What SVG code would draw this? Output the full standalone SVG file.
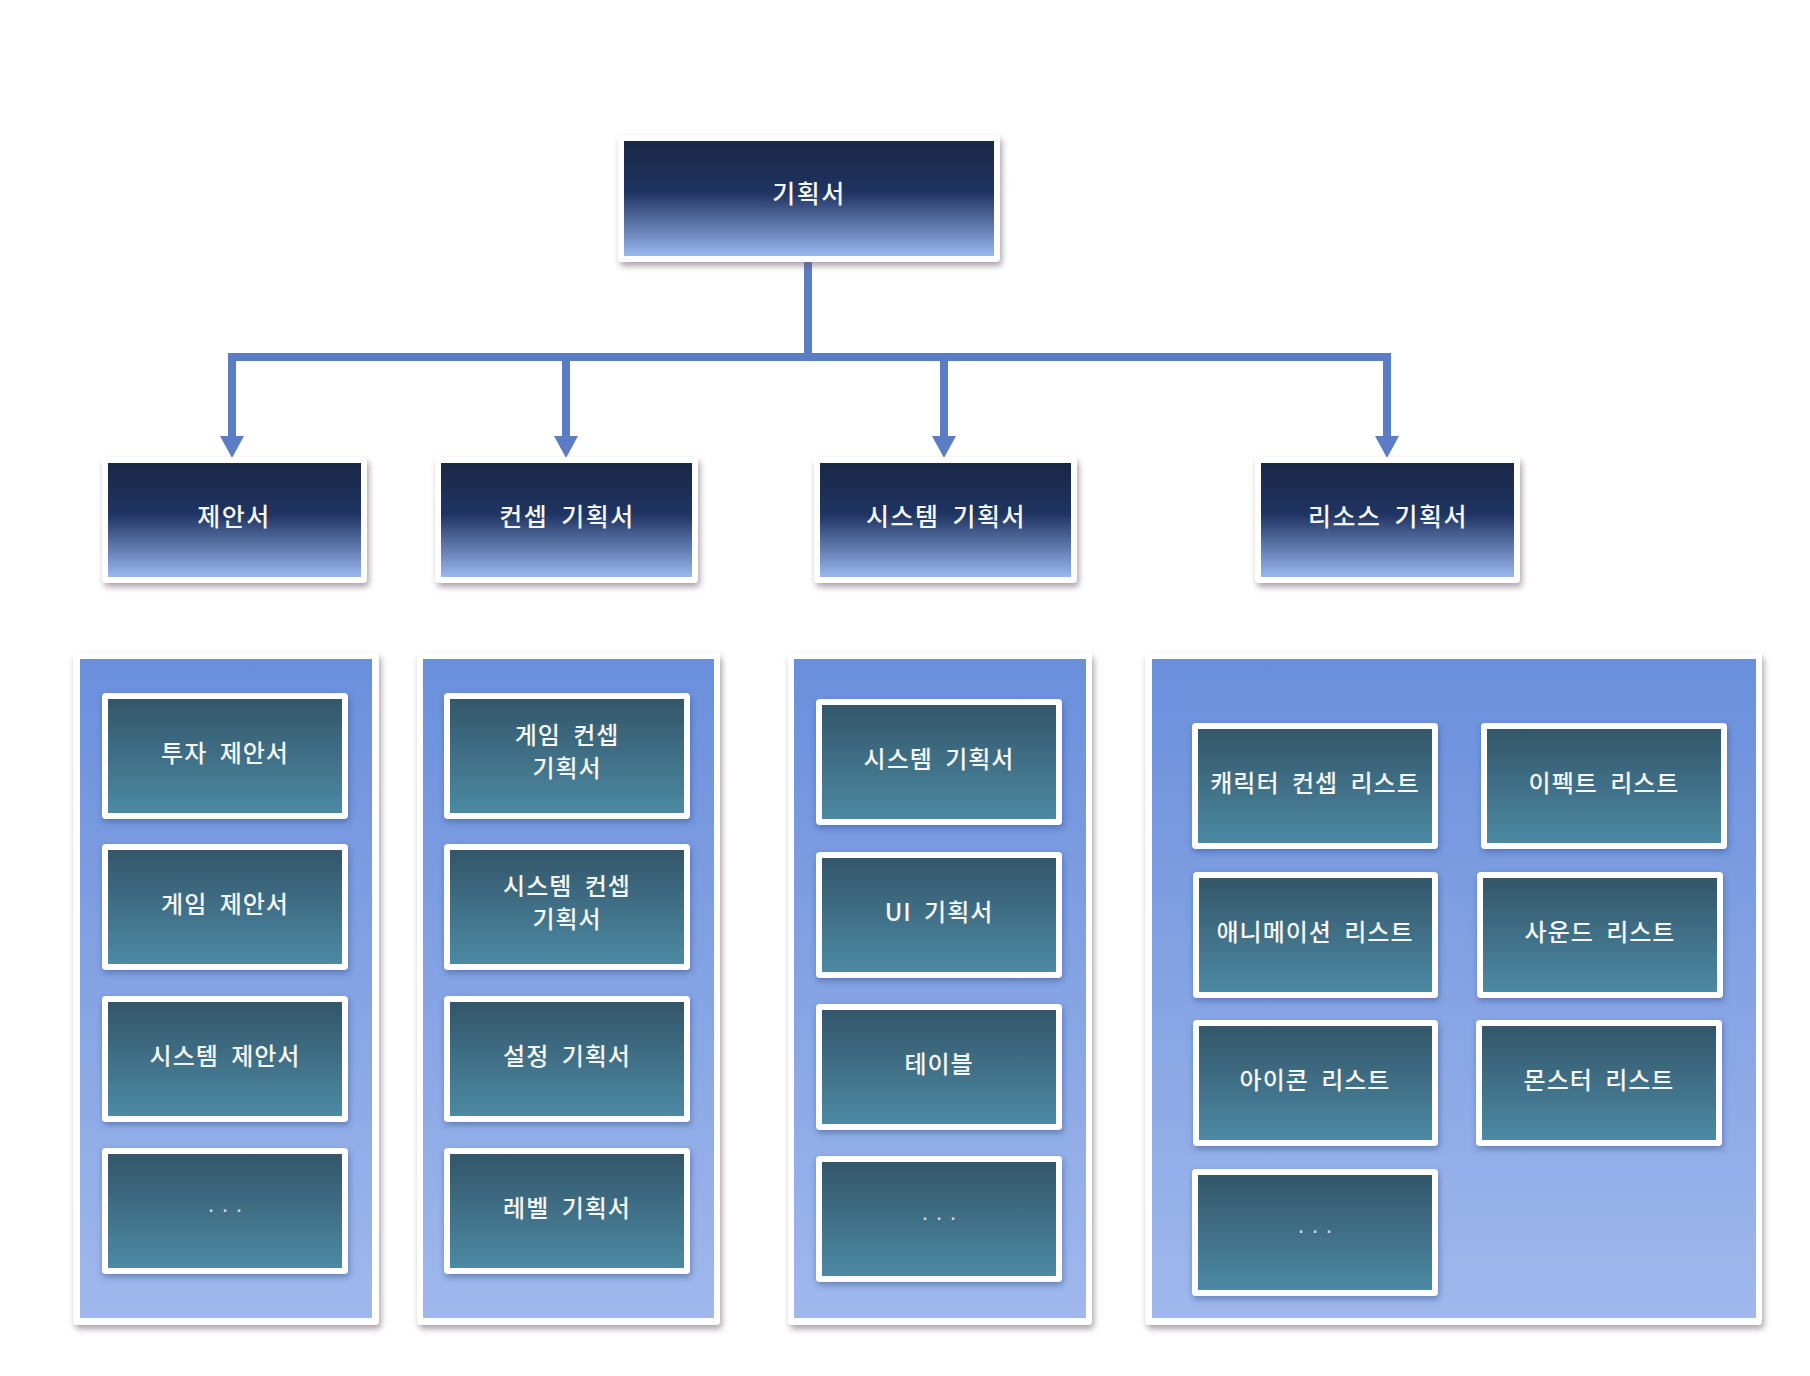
<svg xmlns="http://www.w3.org/2000/svg" width="1810" height="1376" viewBox="0 0 1810 1376">
<style>
.t{font-family:"Noto Sans CJK KR","Noto Sans",sans-serif;fill:#f6f6f2;text-anchor:middle;font-weight:500;}
.th{font-size:25px;letter-spacing:1.5px;word-spacing:6px;}
.ti{font-size:24px;letter-spacing:1px;word-spacing:6px;}
.dots{font-family:"Liberation Sans",sans-serif;font-size:24px;fill:#c8dae6;text-anchor:middle;letter-spacing:6px;}
.frame{fill:#ffffff;filter:url(#sh);}
.iframe{fill:#ffffff;filter:url(#shb);}
.hdr{fill:url(#gH);}
.cont{fill:url(#gC);}
.itm{fill:url(#gI);}
.conn{stroke:#5a7dc6;stroke-width:8;fill:none;}
</style>
<defs>
<linearGradient id="gH" x1="0" y1="0" x2="0" y2="1">
<stop offset="0" stop-color="#1a2746"/>
<stop offset="0.45" stop-color="#1f3462"/>
<stop offset="1" stop-color="#9ab7ef"/>
</linearGradient>
<linearGradient id="gC" x1="0" y1="0" x2="0" y2="1">
<stop offset="0" stop-color="#6a8fdc"/>
<stop offset="1" stop-color="#a0b8ec"/>
</linearGradient>
<linearGradient id="gI" x1="0" y1="0" x2="0" y2="1">
<stop offset="0" stop-color="#33566a"/>
<stop offset="1" stop-color="#4c89a3"/>
</linearGradient>
<filter id="sh" x="-10%" y="-10%" width="120%" height="125%">
<feDropShadow dx="2" dy="4" stdDeviation="3" flood-color="#6a5568" flood-opacity="0.55"/>
</filter>
<filter id="shb" x="-10%" y="-10%" width="120%" height="125%">
<feDropShadow dx="1" dy="3" stdDeviation="3" flood-color="#2c4a90" flood-opacity="0.5"/>
</filter>
<marker id="arr" markerUnits="userSpaceOnUse" markerWidth="26" markerHeight="26" viewBox="0 -13 24 26" refX="0" refY="0" orient="auto">
<path d="M0,-12 L22,0 L0,12 Z" fill="#5a7dc6"/>
</marker>
</defs>

<g id="connectors">
<path class="conn" d="M808 262 V357"/>
<path class="conn" d="M232 357 H1387" stroke-linecap="square"/>
<path class="conn" d="M232 357 V436" marker-end="url(#arr)"/>
<path class="conn" d="M566 357 V436" marker-end="url(#arr)"/>
<path class="conn" d="M944 357 V436" marker-end="url(#arr)"/>
<path class="conn" d="M1387 357 V436" marker-end="url(#arr)"/>
</g>

<g id="node-root">
<rect class="frame" x="618" y="135" width="382" height="127" rx="4"/>
<rect class="hdr" x="624" y="141" width="370" height="115"/>
<text class="t th" x="809" y="203">기획서</text>
</g>

<g id="node-proposal">
<rect class="frame" x="102" y="457" width="265" height="126" rx="4"/>
<rect class="hdr" x="108" y="463" width="253" height="114"/>
<text class="t th" x="234" y="526">제안서</text>
</g>
<g id="node-concept">
<rect class="frame" x="435" y="457" width="263" height="126" rx="4"/>
<rect class="hdr" x="441" y="463" width="251" height="114"/>
<text class="t th" x="567" y="526">컨셉 기획서</text>
</g>
<g id="node-system">
<rect class="frame" x="814" y="457" width="263" height="126" rx="4"/>
<rect class="hdr" x="820" y="463" width="251" height="114"/>
<text class="t th" x="946" y="526">시스템 기획서</text>
</g>
<g id="node-resource">
<rect class="frame" x="1255" y="457" width="265" height="126" rx="4"/>
<rect class="hdr" x="1261" y="463" width="253" height="114"/>
<text class="t th" x="1388" y="526">리소스 기획서</text>
</g>

<!-- column containers -->
<g id="group-proposal">
<rect class="frame" x="73" y="653" width="306" height="672" rx="4"/>
<rect class="cont" x="80" y="659" width="292" height="659"/>
</g>
<g id="group-concept">
<rect class="frame" x="417" y="653" width="303" height="672" rx="4"/>
<rect class="cont" x="423" y="659" width="291" height="659"/>
</g>
<g id="group-system">
<rect class="frame" x="788" y="653" width="304" height="672" rx="4"/>
<rect class="cont" x="794" y="659" width="292" height="659"/>
</g>
<g id="group-resource">
<rect class="frame" x="1145" y="653" width="617" height="672" rx="4"/>
<rect class="cont" x="1152" y="659" width="604" height="659"/>
</g>

<!-- column 1 items -->
<g id="item-invest">
<rect class="iframe" x="102" y="693" width="246" height="126" rx="4"/>
<rect class="itm" x="108" y="699" width="234" height="114"/>
<text class="t ti" x="225" y="762">투자 제안서</text>
</g>
<g id="item-game-proposal">
<rect class="iframe" x="102" y="844" width="246" height="126" rx="4"/>
<rect class="itm" x="108" y="850" width="234" height="114"/>
<text class="t ti" x="225" y="913">게임 제안서</text>
</g>
<g id="item-system-proposal">
<rect class="iframe" x="102" y="996" width="246" height="126" rx="4"/>
<rect class="itm" x="108" y="1002" width="234" height="114"/>
<text class="t ti" x="225" y="1065">시스템 제안서</text>
</g>
<g id="item-proposal-more">
<rect class="iframe" x="102" y="1148" width="246" height="126" rx="4"/>
<rect class="itm" x="108" y="1154" width="234" height="114"/>
<text class="dots" x="228" y="1217">···</text>
</g>

<!-- column 2 items -->
<g id="item-game-concept">
<rect class="iframe" x="444" y="693" width="246" height="126" rx="4"/>
<rect class="itm" x="450" y="699" width="234" height="114"/>
<text class="t ti" x="567" y="744">게임 컨셉</text>
<text class="t ti" x="567" y="777">기획서</text>
</g>
<g id="item-system-concept">
<rect class="iframe" x="444" y="844" width="246" height="126" rx="4"/>
<rect class="itm" x="450" y="850" width="234" height="114"/>
<text class="t ti" x="567" y="895">시스템 컨셉</text>
<text class="t ti" x="567" y="928">기획서</text>
</g>
<g id="item-setting">
<rect class="iframe" x="444" y="996" width="246" height="126" rx="4"/>
<rect class="itm" x="450" y="1002" width="234" height="114"/>
<text class="t ti" x="567" y="1065">설정 기획서</text>
</g>
<g id="item-level">
<rect class="iframe" x="444" y="1148" width="246" height="126" rx="4"/>
<rect class="itm" x="450" y="1154" width="234" height="114"/>
<text class="t ti" x="567" y="1217">레벨 기획서</text>
</g>

<!-- column 3 items -->
<g id="item-system-plan">
<rect class="iframe" x="816" y="699" width="246" height="126" rx="4"/>
<rect class="itm" x="822" y="705" width="234" height="114"/>
<text class="t ti" x="939" y="768">시스템 기획서</text>
</g>
<g id="item-ui">
<rect class="iframe" x="816" y="852" width="246" height="126" rx="4"/>
<rect class="itm" x="822" y="858" width="234" height="114"/>
<text class="t ti" x="939" y="921">UI 기획서</text>
</g>
<g id="item-table">
<rect class="iframe" x="816" y="1004" width="246" height="126" rx="4"/>
<rect class="itm" x="822" y="1010" width="234" height="114"/>
<text class="t ti" x="939" y="1073">테이블</text>
</g>
<g id="item-system-more">
<rect class="iframe" x="816" y="1156" width="246" height="126" rx="4"/>
<rect class="itm" x="822" y="1162" width="234" height="114"/>
<text class="dots" x="942" y="1225">···</text>
</g>

<!-- column 4 items -->
<g id="item-character">
<rect class="iframe" x="1192" y="723" width="246" height="126" rx="4"/>
<rect class="itm" x="1198" y="729" width="234" height="114"/>
<text class="t ti" x="1315" y="792">캐릭터 컨셉 리스트</text>
</g>
<g id="item-effect">
<rect class="iframe" x="1481" y="723" width="246" height="126" rx="4"/>
<rect class="itm" x="1487" y="729" width="234" height="114"/>
<text class="t ti" x="1604" y="792">이펙트 리스트</text>
</g>
<g id="item-animation">
<rect class="iframe" x="1193" y="872" width="245" height="126" rx="4"/>
<rect class="itm" x="1199" y="878" width="233" height="114"/>
<text class="t ti" x="1315" y="941">애니메이션 리스트</text>
</g>
<g id="item-sound">
<rect class="iframe" x="1477" y="872" width="246" height="126" rx="4"/>
<rect class="itm" x="1483" y="878" width="234" height="114"/>
<text class="t ti" x="1600" y="941">사운드 리스트</text>
</g>
<g id="item-icon">
<rect class="iframe" x="1193" y="1020" width="245" height="126" rx="4"/>
<rect class="itm" x="1199" y="1026" width="233" height="114"/>
<text class="t ti" x="1315" y="1089">아이콘 리스트</text>
</g>
<g id="item-monster">
<rect class="iframe" x="1476" y="1020" width="246" height="126" rx="4"/>
<rect class="itm" x="1482" y="1026" width="234" height="114"/>
<text class="t ti" x="1599" y="1089">몬스터 리스트</text>
</g>
<g id="item-resource-more">
<rect class="iframe" x="1192" y="1169" width="246" height="127" rx="4"/>
<rect class="itm" x="1198" y="1175" width="234" height="115"/>
<text class="dots" x="1318" y="1238">···</text>
</g>
</svg>
